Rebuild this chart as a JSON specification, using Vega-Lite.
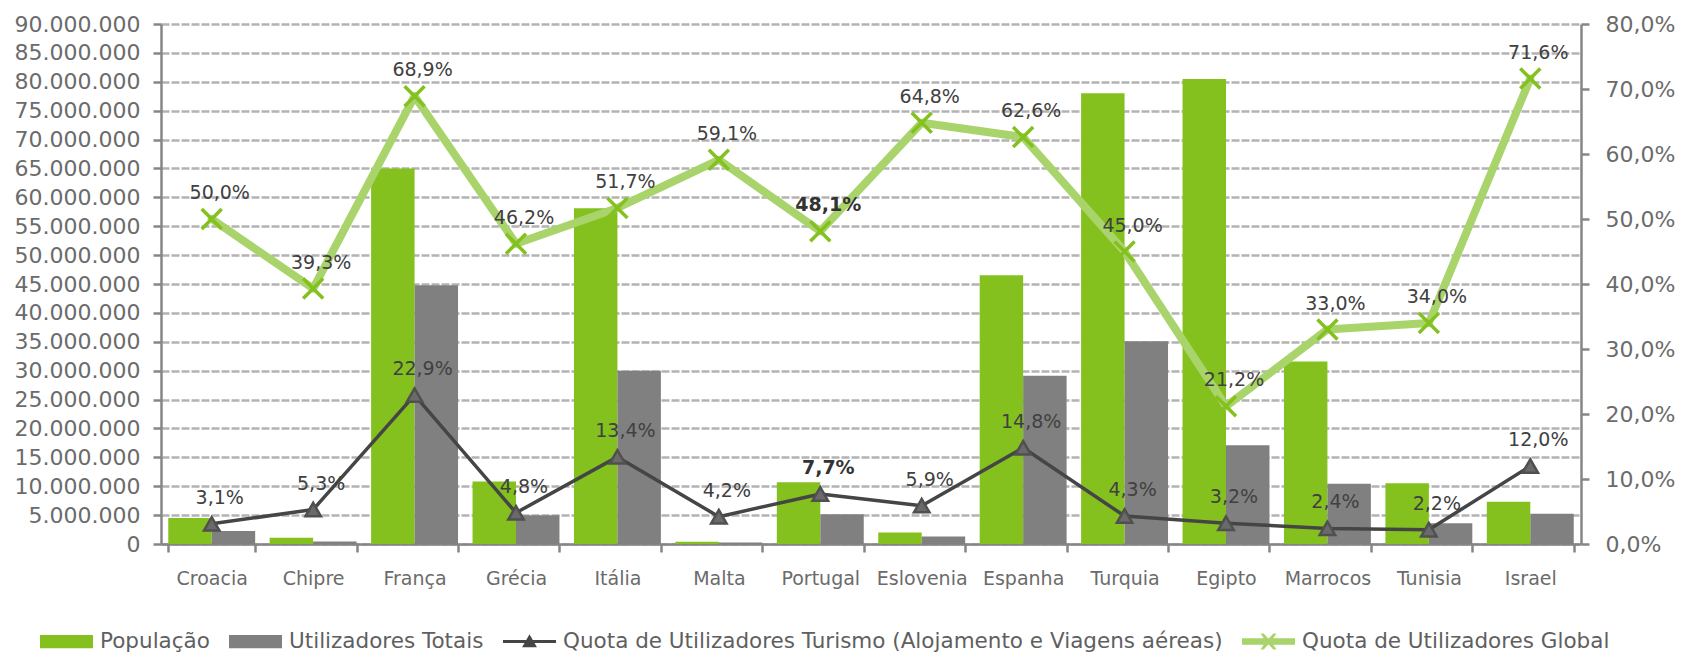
{
  "$schema": "https://vega.github.io/schema/vega-lite/v6.json",
  "width": 1420,
  "height": 520,
  "autosize": {"type": "none"},
  "padding": {"left": 161, "top": 24, "right": 100, "bottom": 109},
  "background": "white",
  "config": {
    "locale": {"number": {"decimal": ",", "thousands": ".", "grouping": [3], "currency": ["", " €"]}},
    "view": {"stroke": null},
    "font": "DejaVu Sans",
    "text": {"font": "DejaVu Sans"}
  },
  "data": {
    "values": [
      {"País": "Croacia", "População": 4480000, "Utilizadores Totais": 2240000, "Turismo": 0.031, "Global": 0.500},
      {"País": "Chipre", "População": 1100000, "Utilizadores Totais": 433000, "Turismo": 0.053, "Global": 0.393},
      {"País": "França", "População": 65000000, "Utilizadores Totais": 44800000, "Turismo": 0.229, "Global": 0.689},
      {"País": "Grécia", "População": 10800000, "Utilizadores Totais": 4990000, "Turismo": 0.048, "Global": 0.462},
      {"País": "Itália", "População": 58100000, "Utilizadores Totais": 30000000, "Turismo": 0.134, "Global": 0.517},
      {"País": "Malta", "População": 410000, "Utilizadores Totais": 242000, "Turismo": 0.042, "Global": 0.591},
      {"País": "Portugal", "População": 10700000, "Utilizadores Totais": 5150000, "Turismo": 0.077, "Global": 0.481},
      {"País": "Eslovenia", "População": 2000000, "Utilizadores Totais": 1300000, "Turismo": 0.059, "Global": 0.648},
      {"País": "Espanha", "População": 46500000, "Utilizadores Totais": 29100000, "Turismo": 0.148, "Global": 0.626},
      {"País": "Turquia", "População": 78000000, "Utilizadores Totais": 35100000, "Turismo": 0.043, "Global": 0.450},
      {"País": "Egipto", "População": 80500000, "Utilizadores Totais": 17100000, "Turismo": 0.032, "Global": 0.212},
      {"País": "Marrocos", "População": 31600000, "Utilizadores Totais": 10430000, "Turismo": 0.024, "Global": 0.330},
      {"País": "Tunisia", "População": 10500000, "Utilizadores Totais": 3570000, "Turismo": 0.022, "Global": 0.340},
      {"País": "Israel", "População": 7300000, "Utilizadores Totais": 5230000, "Turismo": 0.120, "Global": 0.716}
    ]
  },
  "layer": [
    {
      "transform": [{"fold": ["População", "Utilizadores Totais"], "as": ["série", "valor"]}],
      "mark": {"type": "bar"},
      "encoding": {
        "x": {
          "field": "País", "type": "nominal", "sort": null,
          "scale": {"paddingInner": 0.143, "paddingOuter": 0.0715},
          "axis": {
            "title": null, "labelAngle": 0, "tickBand": "extent", "tickSize": 8,
            "tickColor": "#868686", "tickWidth": 2.5, "domainColor": "#868686", "domainWidth": 2.5,
            "labelFont": "DejaVu Sans", "labelFontSize": 19, "labelColor": "#6b6b6b", "labelPadding": 17,
            "grid": false
          }
        },
        "xOffset": {"field": "série", "sort": ["População", "Utilizadores Totais"]},
        "y": {
          "field": "valor", "type": "quantitative",
          "scale": {"domain": [0, 90000000], "nice": false},
          "axis": {
            "title": null,
            "values": [0, 5000000, 10000000, 15000000, 20000000, 25000000, 30000000, 35000000, 40000000, 45000000, 50000000, 55000000, 60000000, 65000000, 70000000, 75000000, 80000000, 85000000, 90000000],
            "format": ",.0f",
            "grid": true, "gridDash": [8, 2], "gridColor": "#b3b3b3", "gridWidth": 2.5,
            "domainColor": "#868686", "domainWidth": 2.5, "tickColor": "#868686", "tickWidth": 2.5, "tickSize": 8,
            "labelFont": "DejaVu Sans", "labelFontSize": 22, "labelColor": "#6b6b6b", "labelPadding": 13
          }
        },
        "color": {
          "field": "série", "type": "nominal",
          "scale": {
            "domain": ["População", "Utilizadores Totais", "Quota de Utilizadores Turismo (Alojamento e Viagens aéreas)", "Quota de Utilizadores Global"],
            "range": ["#84C11F", "#808080", "#454545", "#A9D46B"]
          },
          "legend": {
            "orient": "none", "legendX": -121, "legendY": 591, "direction": "horizontal",
            "title": null, "padding": 0, "symbolSize": 2809, "symbolStrokeWidth": 0,
            "labelFont": "DejaVu Sans", "labelFontSize": 21.5, "labelColor": "#5f5f5f",
            "labelOffset": 7, "columnPadding": 19, "labelLimit": 1000,
            "encode": {
              "symbols": {
                "update": {
                  "shape": {"signal": "datum.value === 'Quota de Utilizadores Turismo (Alojamento e Viagens aéreas)' ? 'M-1,-0.055H1V0.055H-1Z M-0.28,0.22L0,-0.27L0.28,0.22Z' : (datum.value === 'Quota de Utilizadores Global' ? 'M-1,-0.12H1V0.12H-1Z M-0.3,-0.3L-0.18,-0.3L0,-0.1L0.18,-0.3L0.3,-0.3L0.1,0L0.3,0.3L0.18,0.3L0,0.1L-0.18,0.3L-0.3,0.3L-0.1,0Z' : 'M-1,-0.25H1V0.25H-1Z')"},
                  "strokeWidth": {"value": 0}
                }
              }
            }
          }
        }
      }
    },
    {
      "transform": [{"fold": ["Turismo", "Global"], "as": ["série", "pct"]}],
      "encoding": {
        "x": {"field": "País", "type": "nominal", "sort": null},
        "y": {
          "field": "pct", "type": "quantitative",
          "scale": {"domain": [0, 0.8], "nice": false},
          "axis": {
            "orient": "right", "title": null,
            "values": [0, 0.1, 0.2, 0.3, 0.4, 0.5, 0.6, 0.7, 0.8],
            "format": ".1%", "grid": false,
            "domainColor": "#868686", "domainWidth": 2.5, "tickColor": "#868686", "tickWidth": 2.5, "tickSize": 8,
            "labelFont": "DejaVu Sans", "labelFontSize": 22, "labelColor": "#6b6b6b", "labelPadding": 16
          }
        }
      },
      "layer": [
        {
          "transform": [{"filter": "datum['série'] === 'Turismo'"}],
          "mark": {"type": "line", "color": "#454545", "strokeWidth": 3.5, "strokeJoin": "round"}
        },
        {
          "transform": [{"filter": "datum['série'] === 'Turismo'"}],
          "mark": {"type": "point", "shape": "triangle-up", "size": 240, "filled": true, "fill": "#6a6a6a", "stroke": "#505050", "strokeWidth": 2.5, "opacity": 1}
        },
        {
          "transform": [{"filter": "datum['série'] === 'Global'"}],
          "mark": {"type": "line", "color": "#A9D46B", "strokeWidth": 8, "strokeJoin": "round", "strokeCap": "round"}
        },
        {
          "transform": [{"filter": "datum['série'] === 'Global'"}],
          "mark": {"type": "point", "shape": "M-1,-1L1,1M-1,1L1,-1", "size": 400, "filled": false, "stroke": "#84C11F", "strokeWidth": 3.5, "opacity": 1}
        },
        {
          "transform": [{"filter": "datum['País'] !== 'Portugal'"}],
          "mark": {"type": "text", "dx": 8, "dy": -26, "fontSize": 19, "font": "DejaVu Sans", "color": "#404040", "baseline": "middle", "align": "center"},
          "encoding": {"text": {"field": "pct", "type": "quantitative", "format": ".1%"}}
        },
        {
          "transform": [{"filter": "datum['País'] === 'Portugal'"}],
          "mark": {"type": "text", "dx": 8, "dy": -26, "fontSize": 19, "font": "DejaVu Sans", "fontWeight": "bold", "color": "#333333", "baseline": "middle", "align": "center"},
          "encoding": {"text": {"field": "pct", "type": "quantitative", "format": ".1%"}}
        }
      ]
    }
  ],
  "resolve": {"scale": {"y": "independent"}}
}
